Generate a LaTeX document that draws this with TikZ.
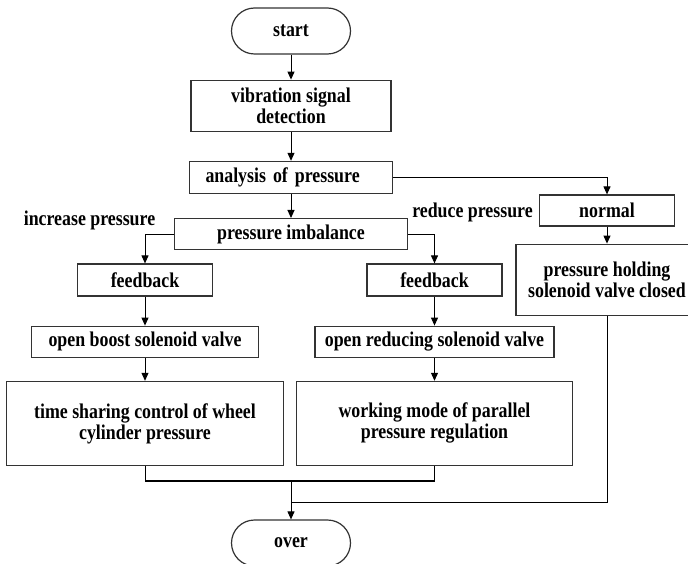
\documentclass[tikz,border=0pt]{standalone}
\usepackage{fontspec}
\setmainfont{Liberation Serif}[FakeStretch=0.85]
\usetikzlibrary{positioning}
\usetikzlibrary{arrows.meta}
\usetikzlibrary{shapes,calc}
\tikzset{proc node/.style={rectangle,draw=black!80,line width=1.2pt,inner sep=0pt,align=center,font=\bfseries\fontsize{21}{21}\selectfont},
term node/.style={proc node,rounded corners=23pt,minimum width=119pt,minimum height=46pt},
label text/.style={inner sep=0pt,font=\bfseries\fontsize{21}{21}\selectfont},}

\begin{document}
\begin{tikzpicture}[x=1pt,y=-1pt,->,>={Triangle[length=8pt,width=7pt]},line width=1pt]
	\useasboundingbox (0,0) rectangle (688,564);
	\node[term node] (start) at (291,31) {start};
	\node[proc node, minimum width=200pt, minimum height=51pt] (vib) [below=25pt of start] {vibration signal\\detection};
	\node[proc node, minimum height=32pt, text width=171pt, inner xsep=16pt, align=left] (ana) [below=29pt of vib] {analysis of pressure};
	\node[proc node, minimum width=233pt, minimum height=31pt] (imb) [below=24pt of ana] {pressure imbalance};
	\node[proc node, minimum width=135pt, minimum height=31pt] (normal) at (607,210.5) {normal};
	\node[proc node, minimum width=182pt, minimum height=71pt] (hold) [below=17pt of normal] {pressure holding\\solenoid valve closed};
	\node[proc node, minimum width=135pt, minimum height=32pt] (fbL) at (145,280) {feedback};
	\node[proc node, minimum width=227pt, minimum height=31pt] (boost) [below=29pt of fbL] {open boost solenoid valve};
	\node[proc node, minimum width=277pt, minimum height=84pt] (time) [below=23pt of boost] {time sharing control of wheel\\cylinder pressure};
	\node[proc node, minimum width=135pt, minimum height=32pt] (fbR) at (434.5,280) {feedback};
	\node[proc node, minimum width=239pt, minimum height=31pt] (reduc) [below=29pt of fbR] {open reducing solenoid valve};
	\node[proc node, minimum width=276pt, minimum height=84pt] (work) [below=23pt of reduc] {working mode of parallel\\pressure regulation};
	\node[term node] (over) at (291,543) {over};
	\node[label text] (incp) at (89.5,220) {increase pressure};
	\node[label text] (redp) at (472.5,212) {reduce pressure};
	\coordinate (j1) at (291,481);
	\coordinate (j2) at (291,502);

	\path[draw]
	(start) edge (vib)
	(vib) edge (ana)
	(ana) edge (imb)
	(fbL) edge (boost)
	(boost) edge (time)
	(fbR) edge (reduc)
	(reduc) edge (work)
	(normal) edge (hold);
	\draw (ana) -| (normal);
	\draw (imb) -| (fbL);
	\draw (imb) -| (fbR);
	\draw[-] (time) |- (j1) -| (work);
	\draw[-,line width=2pt] (time.south |- j1) -- (work.south |- j1);
	\draw[-] (hold) |- (j2);
	\draw (j1) -- (over);
\end{tikzpicture}
\end{document}
